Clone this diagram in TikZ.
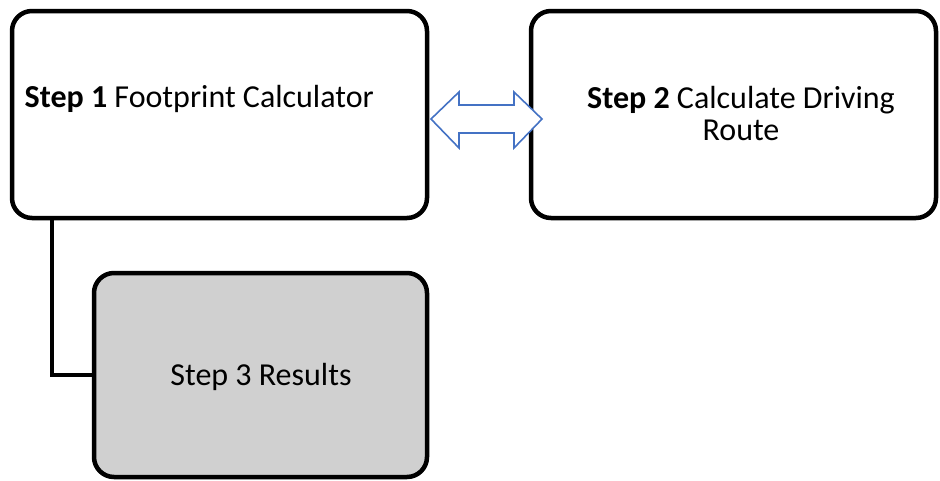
\documentclass[tikz,border=0pt]{standalone}
\usepackage{fontspec}
\setmainfont{Carlito}
\definecolor{boxgray}{HTML}{D0D0D0}
\definecolor{arrowblue}{HTML}{4472C4}
\begin{document}
\begin{tikzpicture}[x=1pt,y=-1pt,
  stepbox/.style={draw=black, line width=4.5pt, rounded corners=20pt, inner sep=0pt, fill=white},
  steptext/.style={inner sep=0pt, font=\fontsize{32}{32}\selectfont, text=black},
  linkline/.style={draw=black, line width=4.5pt},
  dblarrow/.style={draw=arrowblue, line width=1.6pt, fill=white, line join=miter}]
\useasboundingbox (0,0) rectangle (940,480);
\node[stepbox, minimum width=415pt, minimum height=207pt] (b1) at (219.5,114.5) {};
\node[stepbox, minimum width=405pt, minimum height=207pt] (b2) at (733.5,114.5) {};
\node[stepbox, fill=boxgray, minimum width=333pt, minimum height=204pt] (b3) at (260.5,375) {};
\coordinate (c) at (52,218);
\draw[linkline] (b1.south -| c) |- (b3.west);
\node[steptext, anchor=base west] (t1) at (24.5,107) {\textbf{Step 1} Footprint Calculator};
\node[steptext, anchor=base, align=center] (t2) at (741,140) {\textbf{Step 2} Calculate Driving\\Route};
\node[steptext, anchor=base] (t3) at (261,385) {Step 3 Results};
\draw[dblarrow] (431,119) -- (459,92) -- (459,105) -- (514,105) -- (514,92) -- (542,119)
  -- (514,148) -- (514,133) -- (459,133) -- (459,148) -- cycle;
\end{tikzpicture}
\end{document}
